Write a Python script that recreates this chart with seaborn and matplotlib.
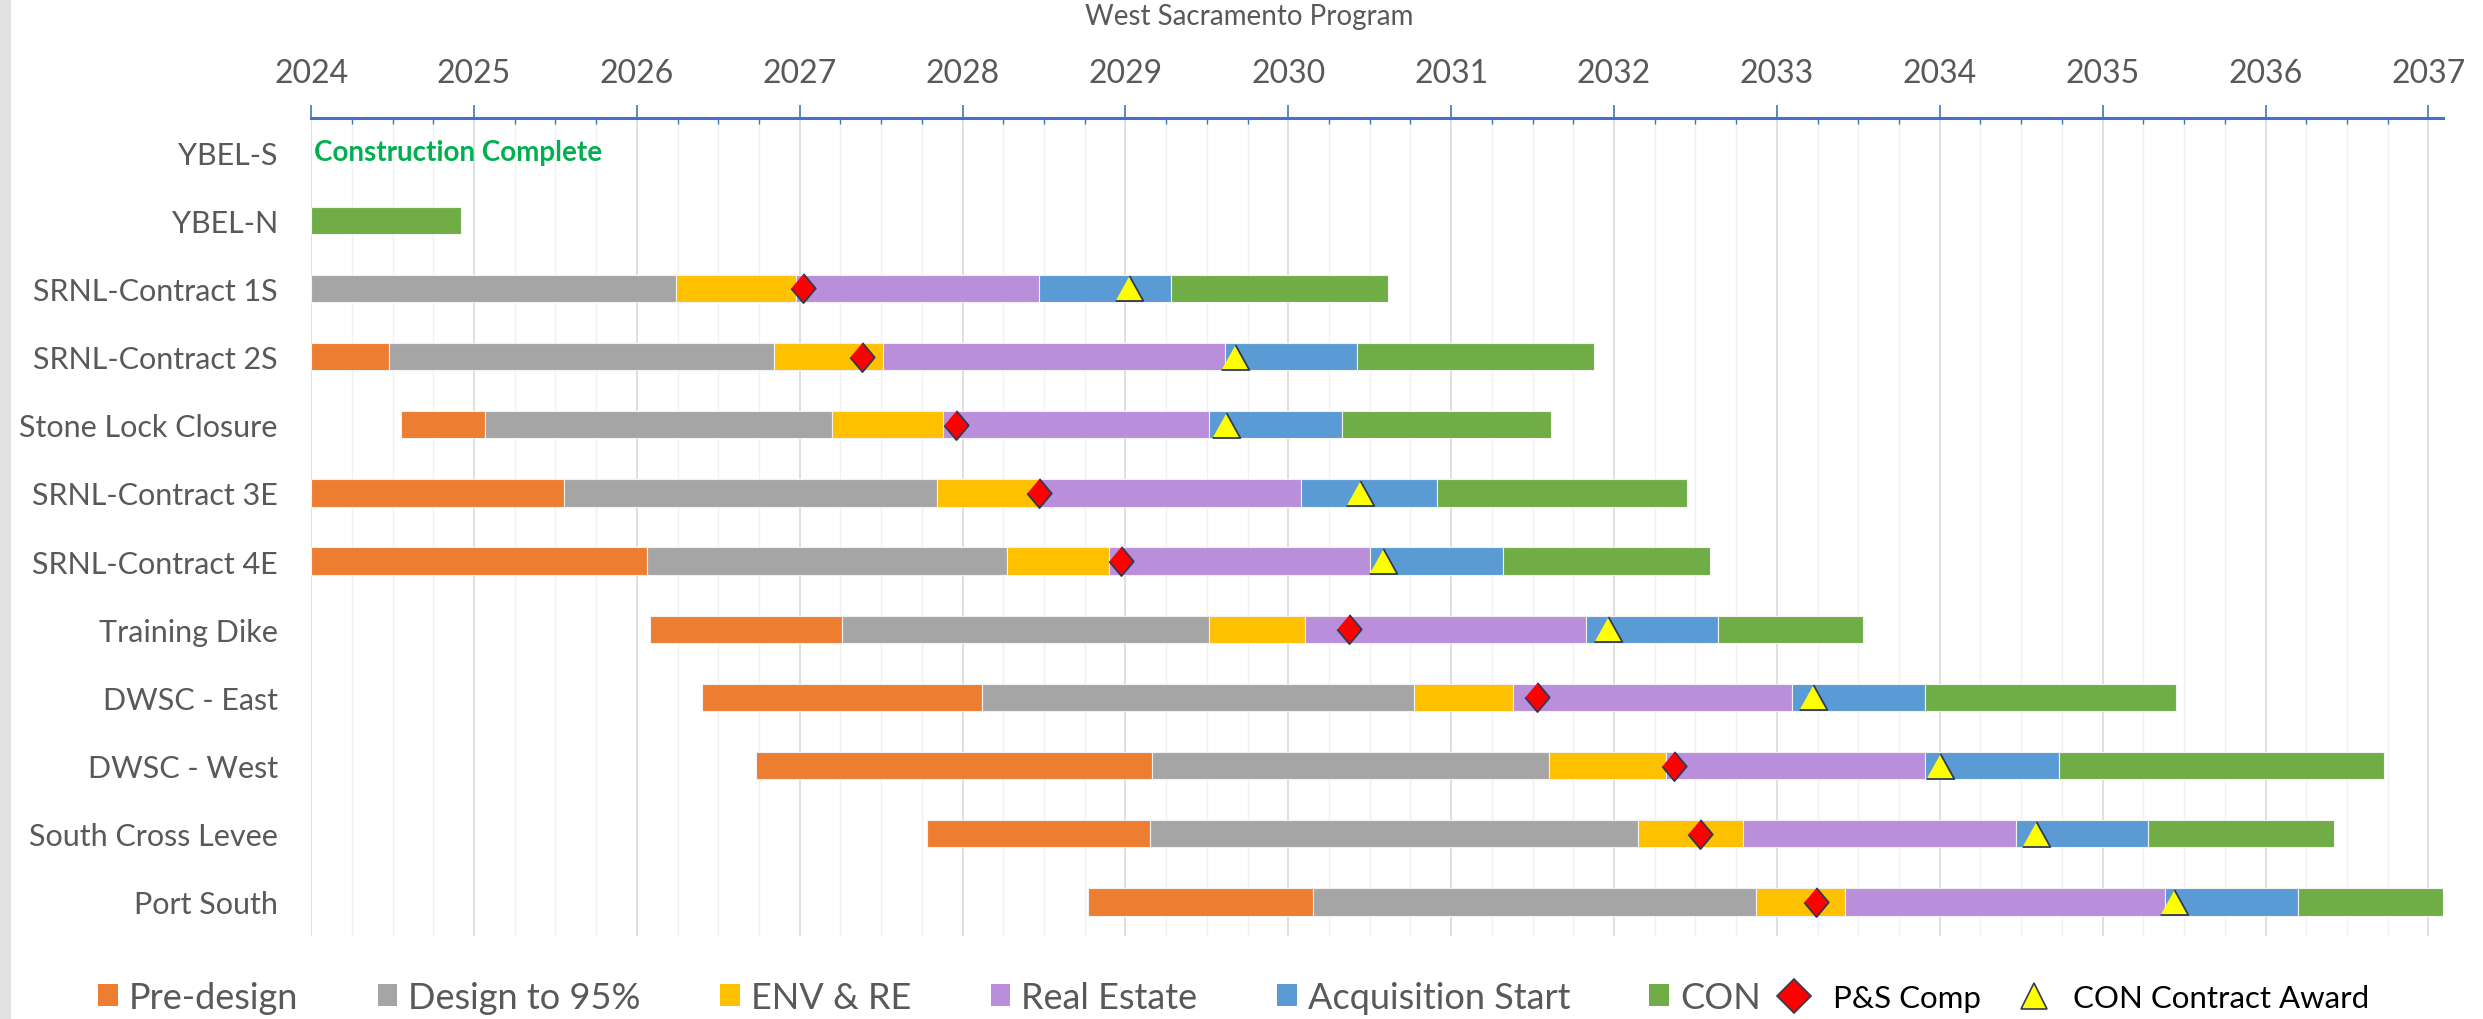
import numpy as np
import pandas as pd
import matplotlib.pyplot as plt
import seaborn as sns
from matplotlib.lines import Line2D
from matplotlib.patches import Patch, Rectangle
from matplotlib.ticker import MultipleLocator

# ---------------- data (decimal years) ----------------
nan = np.nan
projects = ["YBEL-S", "YBEL-N", "SRNL-Contract 1S", "SRNL-Contract 2S",
            "Stone Lock Closure", "SRNL-Contract 3E", "SRNL-Contract 4E",
            "Training Dike", "DWSC - East", "DWSC - West",
            "South Cross Levee", "Port South"]

pre_start    = [nan, nan, nan,     2024.00, 2024.55, 2024.00, 2024.00, 2026.08, 2026.40, 2026.73, 2027.78, 2028.77]
design_start = [nan, nan, 2024.00, 2024.48, 2025.07, 2025.55, 2026.06, 2027.26, 2028.12, 2029.16, 2029.15, 2030.15]
env_start    = [nan, nan, 2026.24, 2026.84, 2027.20, 2027.84, 2028.27, 2029.51, 2030.77, 2031.60, 2032.15, 2032.87]
re_start     = [nan, nan, 2026.98, 2027.51, 2027.88, 2028.47, 2028.90, 2030.10, 2031.38, 2032.32, 2032.79, 2033.42]
acq_start    = [nan, nan, 2028.47, 2029.61, 2029.51, 2030.08, 2030.50, 2031.83, 2033.09, 2033.91, 2034.47, 2035.38]
con_start    = [nan, 2024.00, 2029.28, 2030.42, 2030.33, 2030.91, 2031.32, 2032.64, 2033.91, 2034.73, 2035.28, 2036.20]
con_end      = [nan, 2024.92, 2030.61, 2031.88, 2031.61, 2032.45, 2032.59, 2033.53, 2035.45, 2036.73, 2036.42, 2037.09]

ps_comp   = [nan, nan, 2027.02, 2027.38, 2027.96, 2028.47, 2028.97, 2030.37, 2031.53, 2032.37, 2032.53, 2033.24]
con_award = [nan, nan, 2029.02, 2029.67, 2029.62, 2030.44, 2030.58, 2031.96, 2033.22, 2034.00, 2034.59, 2035.44]

phase_names = ["Pre-design", "Design to 95%", "ENV & RE", "Real Estate", "Acquisition Start", "CON"]
phase_colors = ["#ED7D31", "#A5A5A5", "#FFC000", "#B98EDA", "#5B9BD5", "#70AD47"]
phase_bounds = [pre_start, design_start, env_start, re_start, acq_start, con_start, con_end]

years = list(range(2024, 2038))

# ---------------- style ----------------
sns.set_theme(style="white")
plt.rcParams["font.family"] = ["Lato", "DejaVu Sans"]
text_gray = "#595959"
axis_blue = "#4472C4"

fig = plt.figure(figsize=(24.83, 10.2), dpi=100)
ax = fig.add_axes([0.1253, 0.0814, 0.8586, 0.8019])

rows = np.arange(len(projects))

# stacked phase bars
for i, name in enumerate(phase_names):
    left = np.array(phase_bounds[i], dtype=float)
    right = np.array(phase_bounds[i + 1], dtype=float)
    ok = ~np.isnan(left) & ~np.isnan(right)
    ax.barh(rows[ok], right[ok] - left[ok], left=left[ok], height=0.4,
            color=phase_colors[i], edgecolor="#f2f2f2", linewidth=0.8, zorder=2)

# milestones
ms = pd.DataFrame({"row": np.concatenate([rows, rows]),
                   "year": ps_comp + con_award,
                   "kind": ["P&S Comp"] * len(rows) + ["CON Contract Award"] * len(rows)}).dropna()

diamond = [(0, 0.5), (0.42, 0), (0, -0.5), (-0.42, 0)]
triangle = [(-0.5, -0.45), (0.5, -0.45), (0, 0.45)]

sns.scatterplot(data=ms[ms["kind"] == "P&S Comp"], x="year", y="row", ax=ax,
                marker=diamond, s=440, color="#FF0000", edgecolor="#2F3B52",
                linewidth=1.3, zorder=5, legend=False)
sns.scatterplot(data=ms[ms["kind"] == "CON Contract Award"], x="year", y="row", ax=ax,
                marker=triangle, s=400, color="#FFFF00", edgecolor="#2F3B52",
                linewidth=1.3, zorder=5, legend=False)

ax.text(2024.02, 0, "Construction Complete", color="#00B050", fontsize=20,
        fontweight="bold", va="center", ha="left", zorder=6)

# axes
ax.set_xlim(2024, 2037.09)
ax.set_ylim(len(projects) - 0.5, -0.5)
ax.set_yticks(rows)
ax.set_yticklabels(projects, fontsize=22, color=text_gray)
ax.set_xlabel("")
ax.set_ylabel("")

ax.xaxis.tick_top()
ax.set_xticks(years)
ax.set_xticklabels([str(y) for y in years], fontsize=23, color=text_gray)
ax.xaxis.set_minor_locator(MultipleLocator(0.25))
ax.tick_params(axis="x", which="major", direction="out", length=9.5, width=1.2,
               color=axis_blue, pad=12, top=True, bottom=False)
ax.tick_params(axis="x", which="minor", direction="in", length=4.5, width=1.0,
               color=axis_blue, top=True, bottom=False)
ax.tick_params(axis="y", length=0, pad=24)

ax.grid(axis="x", which="major", color="#D9D9D9", linewidth=1.2)
ax.grid(axis="x", which="minor", color="#F0F0F0", linewidth=1.0)
ax.grid(axis="y", visible=False)
ax.set_axisbelow(True)

for side in ["left", "right", "bottom"]:
    ax.spines[side].set_visible(False)
ax.spines["top"].set_color(axis_blue)
ax.spines["top"].set_linewidth(2.2)

fig.text(0.503, 0.983, "West Sacramento Program", fontsize=20, color=text_gray,
         ha="center", va="center")

# faint strip at the left edge
fig.patches.append(Rectangle((0, 0), 0.0045, 1, transform=fig.transFigure,
                             facecolor="#E2E2E2", edgecolor="none", zorder=0))

# legends
h1 = [Patch(facecolor=c, edgecolor="none") for c in phase_colors]
leg1 = fig.legend(h1, phase_names, loc="center left", bbox_to_anchor=(98 / 2483, 0.021),
                  ncol=6, frameon=False, fontsize=26, handlelength=0.55, handleheight=0.55,
                  handletextpad=0.3, columnspacing=2.2, borderpad=0, borderaxespad=0,
                  labelcolor=text_gray)
h2 = [Line2D([], [], linestyle="none", marker="D", markersize=17, markerfacecolor="#FF0000",
             markeredgecolor="#2F3B52", markeredgewidth=1.2),
      Line2D([], [], linestyle="none", marker="^", markersize=19, markerfacecolor="#FFFF00",
             markeredgecolor="#2F3B52", markeredgewidth=1.2)]
leg2 = fig.legend(h2, ["P&S Comp", "CON Contract Award"], loc="center left",
                  bbox_to_anchor=(1778 / 2483, 0.021), ncol=2, frameon=False, fontsize=22.5,
                  handlelength=1.0, handletextpad=0.75, columnspacing=1.2, borderpad=0,
                  borderaxespad=0, labelcolor="black")

fig.savefig("out.png", dpi=100)
